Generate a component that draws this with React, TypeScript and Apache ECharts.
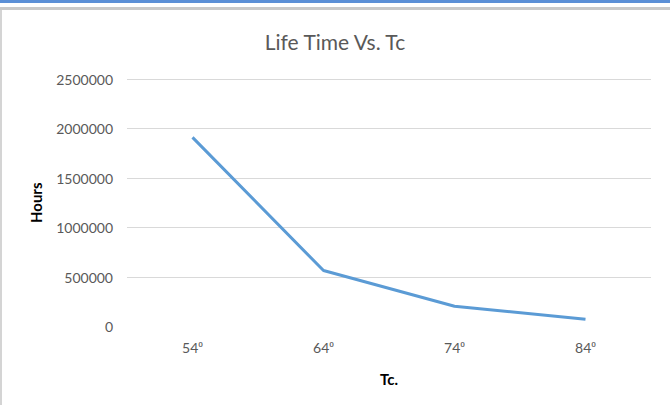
import React, { useEffect, useRef } from "react";
import * as echarts from "echarts";

const categories = ["54⁰", "64⁰", "74⁰", "84⁰"];
const hours = [1910000, 565000, 205000, 73000];
const yTicks = { min: 0, max: 2500000, interval: 500000 };
const titleText = "Life Time Vs. Tc";
const xName = "Tc.";
const yName = "Hours";

export default function App() {
  const ref = useRef<HTMLDivElement>(null);
  useEffect(() => {
    if (!ref.current) return;
    const chart = echarts.init(ref.current, undefined, { renderer: "svg" });
    const font = "Lato, 'Open Sans', sans-serif";
    chart.setOption({
      animation: false,
      backgroundColor: "#ffffff",
      title: {
        text: titleText,
        left: "center",
        top: 26,
        textStyle: { fontFamily: font, fontSize: 21, fontWeight: "normal", color: "#595959" },
      },
      grid: { left: 127, right: 19, top: 79, bottom: 78.5 },
      xAxis: {
        type: "category",
        data: categories,
        boundaryGap: true,
        axisLine: { show: false },
        axisTick: { show: false },
        axisLabel: { color: "#595959", fontFamily: font, fontSize: 14, margin: 14 },
        name: xName,
        nameLocation: "middle",
        nameGap: 45,
        nameTextStyle: { color: "#000000", fontFamily: font, fontSize: 15, fontWeight: "bold" },
      },
      yAxis: {
        type: "value",
        min: yTicks.min,
        max: yTicks.max,
        interval: yTicks.interval,
        axisLine: { show: false },
        axisTick: { show: false },
        axisLabel: {
          color: "#595959",
          fontFamily: font,
          fontSize: 14,
          margin: 14,
          formatter: (v: number) => String(v),
        },
        splitLine: {
          show: true,
          lineStyle: { color: "#d9d9d9", width: 1 },
          showMinLine: false,
        },
        name: yName,
        nameLocation: "middle",
        nameGap: 84,
        nameRotate: 90,
        nameTextStyle: { color: "#000000", fontFamily: font, fontSize: 15, fontWeight: "bold" },
      },
      series: [
        {
          type: "line",
          data: hours,
          symbol: "none",
          lineStyle: { color: "#5b9bd5", width: 3 },
        },
      ],
      graphic: [
        { type: "rect", shape: { x: 0, y: 0, width: 670, height: 3 }, style: { fill: "#5b8fd6" }, silent: true },
        { type: "rect", shape: { x: 0, y: 7, width: 670, height: 3 }, style: { fill: "#c9c9c9" }, silent: true },
        { type: "rect", shape: { x: 0, y: 10, width: 2, height: 395 }, style: { fill: "#d4d4d4" }, silent: true },
      ],
    });
    return () => chart.dispose();
  }, []);
  return (
    <div
      ref={ref}
      style={{ position: "fixed", left: 0, top: 0, width: 670, height: 405 }}
    />
  );
}
